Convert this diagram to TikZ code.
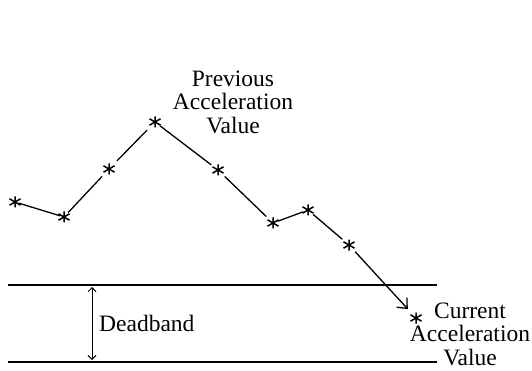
\documentclass[tikz,border=0pt]{standalone}
\usepackage{fontspec}
\setmainfont{Liberation Serif}
\usetikzlibrary{arrows.meta}
\begin{document}
\begin{tikzpicture}[x=1pt,y=-1pt,
  pt/.style={rectangle,minimum size=13pt,inner sep=0pt,
    path picture={\draw[line width=1.5pt]
      ([yshift=5.5pt]path picture bounding box.center)--([yshift=-5.5pt]path picture bounding box.center)
      ([shift={(-5.5pt,-3.2pt)}]path picture bounding box.center)--([shift={(5.5pt,3.2pt)}]path picture bounding box.center)
      ([shift={(-5.5pt,3.2pt)}]path picture bounding box.center)--([shift={(5.5pt,-3.2pt)}]path picture bounding box.center);}},
  seg/.style={line width=1.3pt},
  band/.style={line width=1.8pt},
  lbl/.style={font=\fontsize{23.5}{23.5}\selectfont,align=center,inner sep=0pt}]
\useasboundingbox (0,0) rectangle (532,371);
\node[pt] (p1) at (15,202) {};
\node[pt] (p2) at (64,217) {};
\node[pt] (p3) at (109,169) {};
\node[pt] (p4) at (155,122) {};
\node[pt] (p5) at (218,170) {};
\node[pt] (p6) at (273,223) {};
\node[pt] (p7) at (308,210) {};
\node[pt] (p8) at (349,245) {};
\node[pt] (p9) at (416,318) {};
\draw[seg,shorten <=-3pt,shorten >=-3pt] (p1) -- (p2);
\draw[seg,shorten <=-3pt,shorten >=1pt] (p2) -- (p3);
\draw[seg,shorten <=2pt,shorten >=2pt] (p3) -- (p4);
\draw[seg,shorten >=0pt,shorten <=-2pt] (p4) -- (p5);
\draw[seg,shorten <=0pt,shorten >=0pt] (p5) -- (p6);
\draw[seg,shorten <=-2pt,shorten >=-2pt] (p6) -- (p7);
\draw[seg,shorten <=-2pt,shorten >=0pt] (p7) -- (p8);
\draw[seg,shorten <=0pt,shorten >=3pt,-{Straight Barb[length=8pt,width=14pt,line width=1.3pt]}] (p8) -- (p9);
\coordinate (t1) at (8,285);
\coordinate (t2) at (437,285);
\coordinate (b1) at (8,362);
\coordinate (b2) at (437,362);
\draw[band] (t1) -- (t2);
\draw[band] (b1) -- (b2);
\coordinate (da) at (92,287);
\coordinate (db) at (92,360);
\draw[line width=0.9pt,{Straight Barb[length=4pt,width=8pt]}-{Straight Barb[length=4pt,width=8pt]}] (da) -- (db);
\node[lbl,anchor=west] (dl) at (99,323) {Deadband};
\node[lbl] (prev) at (233,102) {Previous\\Acceleration\\Value};
\node[lbl] (curr) at (470,334) {Current\\Acceleration\\Value};
\end{tikzpicture}
\end{document}
